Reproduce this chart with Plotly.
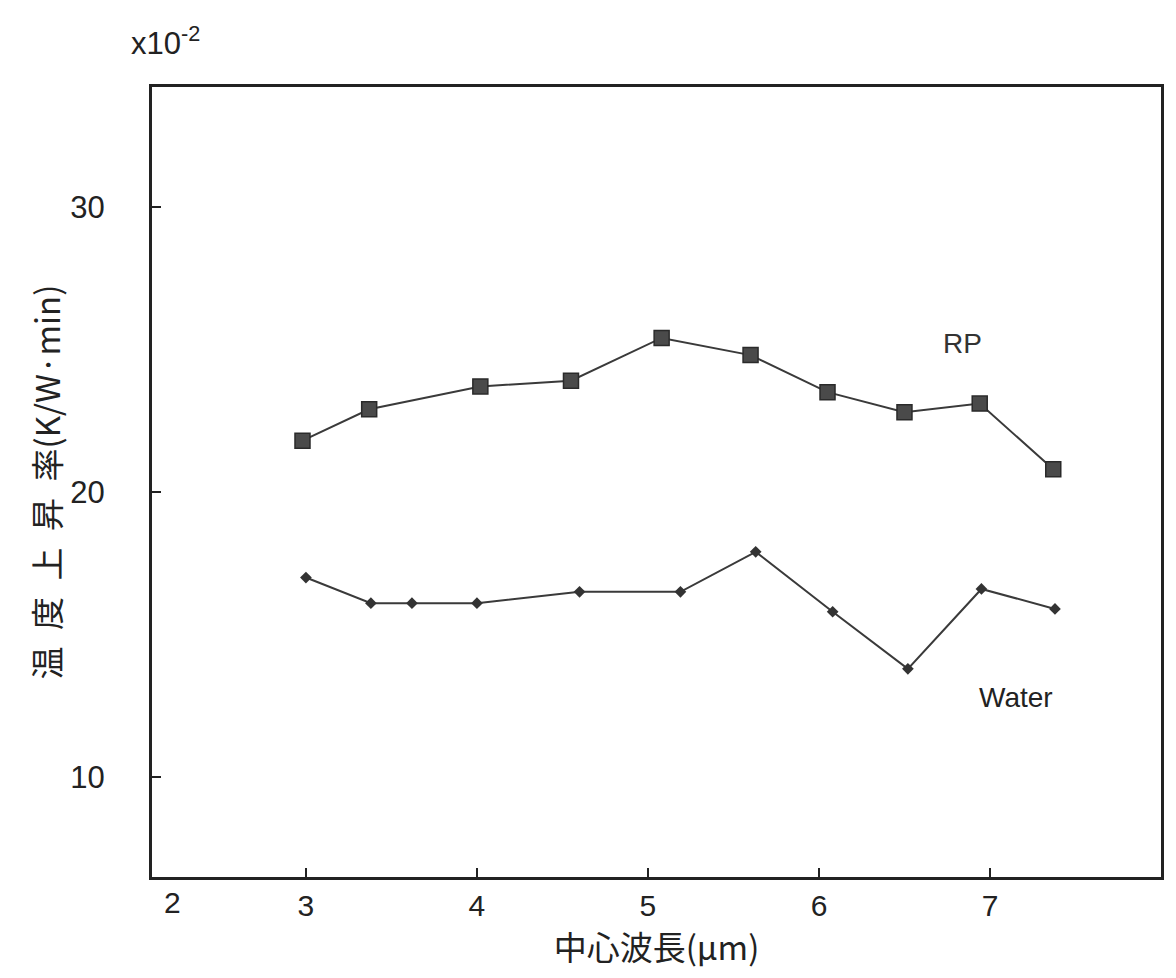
import plotly.graph_objects as go

# Data (center wavelength in µm, temperature rise rate x10^-2 K/W·min)
rp_x = [2.98, 3.37, 4.02, 4.55, 5.08, 5.60, 6.05, 6.50, 6.94, 7.37]
rp_y = [21.8, 22.9, 23.7, 23.9, 25.4, 24.8, 23.5, 22.8, 23.1, 20.8]

water_x = [3.00, 3.38, 3.62, 4.00, 4.60, 5.19, 5.63, 6.08, 6.52, 6.95, 7.38]
water_y = [17.0, 16.1, 16.1, 16.1, 16.5, 16.5, 17.9, 15.8, 13.8, 16.6, 15.9]

x_ticks = [3, 4, 5, 6, 7]
y_ticks = [10, 20, 30]

LINE = "#3a3a3a"
FONT = "Liberation Sans, Arial, sans-serif"
CJK = "Noto Sans CJK JP, sans-serif"
EN = "\u2002"

fig = go.Figure()
fig.add_trace(go.Scatter(
    x=rp_x, y=rp_y, mode="lines+markers", name="RP",
    line=dict(color=LINE, width=2),
    marker=dict(symbol="square", size=15, color="#4a4a4a",
                line=dict(color="#2a2a2a", width=1.5)),
    showlegend=False,
))
fig.add_trace(go.Scatter(
    x=water_x, y=water_y, mode="lines+markers", name="Water",
    line=dict(color=LINE, width=2),
    marker=dict(symbol="diamond", size=9, color="#333333"),
    showlegend=False,
))

fig.update_layout(
    width=1176, height=978,
    margin=dict(l=152, r=13, t=87, b=101),
    paper_bgcolor="white", plot_bgcolor="white",
    font=dict(family=FONT, size=28, color="#222222"),
    xaxis=dict(
        range=[2.1, 8.0], tickvals=x_ticks, ticks="inside", ticklen=9,
        tickwidth=2, tickcolor="#222", showgrid=False, zeroline=False,
        showline=True, linecolor="#222", linewidth=3, mirror=True,
        tickfont=dict(family=FONT, size=30, color="#222"),
        ticklabelstandoff=0,
        title=dict(text="中心波長(μm)", font=dict(family=CJK, size=33, color="#222"),
                   standoff=12),
    ),
    yaxis=dict(
        range=[6.5, 34.2], tickvals=y_ticks, ticks="inside", ticklen=9,
        tickwidth=2, tickcolor="#222", showgrid=False, zeroline=False,
        showline=True, linecolor="#222", linewidth=3, mirror=True,
        tickfont=dict(family=FONT, size=31, color="#222"),
        ticklabelstandoff=38,
        title=dict(text=EN.join("温度上昇率") + "(K/W·min)",
                   font=dict(family=CJK, size=33, color="#222"),
                   standoff=0),
    ),
    annotations=[
        dict(x=2.1, y=0, xref="x", yref="paper", xanchor="left", yanchor="top",
             xshift=10, yshift=-7, text="2", showarrow=False,
             font=dict(family=FONT, size=30, color="#222")),
        dict(x=0, y=1, xref="paper", yref="paper", xanchor="right", yanchor="bottom",
             xshift=50, yshift=24, text="x10<sup>-2</sup>", showarrow=False,
             font=dict(family=FONT, size=31, color="#222")),
        dict(x=6.84, y=25.2, xref="x", yref="y", text="RP", showarrow=False,
             font=dict(family=FONT, size=28, color="#333")),
        dict(x=7.15, y=12.8, xref="x", yref="y", text="Water", showarrow=False,
             font=dict(family=FONT, size=28, color="#222")),
    ],
)

fig.write_html("out.html")
